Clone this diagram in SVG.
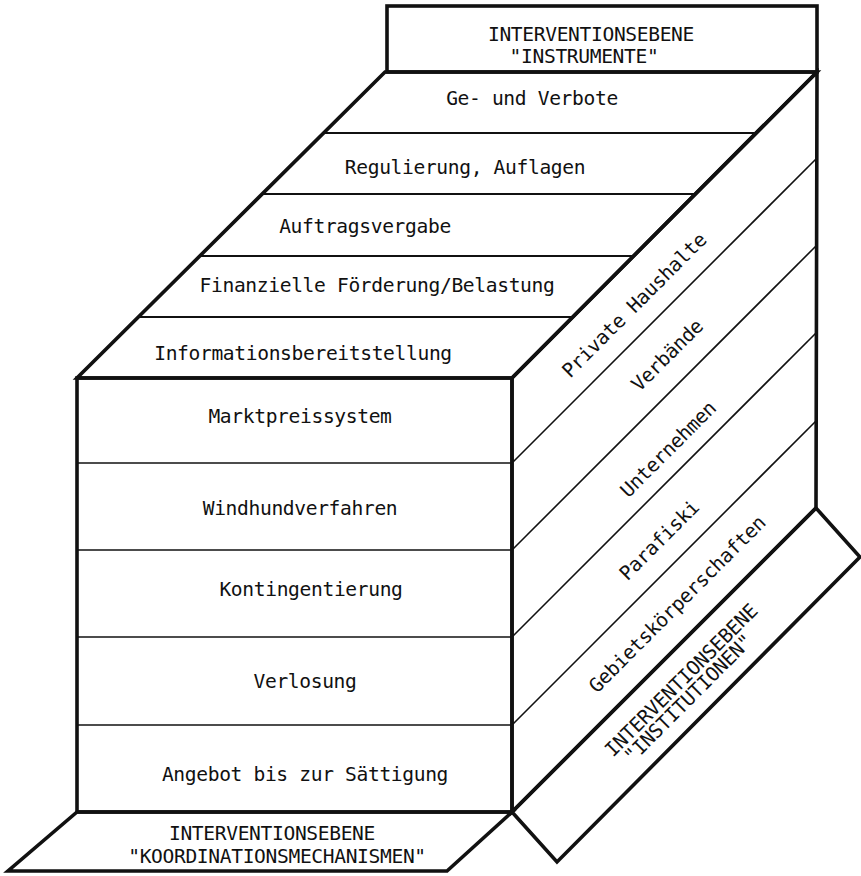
<svg xmlns="http://www.w3.org/2000/svg" width="861" height="876" viewBox="0 0 861 876">
<style>
.bg{fill:#fff}
.thick{fill:none;stroke:#111;stroke-width:3.6;stroke-linejoin:miter}
.thin{fill:none;stroke:#111;stroke-width:1.6}
.mid{fill:none;stroke:#111;stroke-width:2}
text{font-family:"DejaVu Sans Mono","Liberation Mono",monospace;font-size:19.6px;letter-spacing:-0.35px;fill:#111;text-anchor:middle}
</style>
<rect class="bg" x="0" y="0" width="861" height="876"/>
<g id="connectors">
  <line class="mid" x1="322" y1="133" x2="756" y2="133"/>
  <line class="mid" x1="261" y1="194" x2="695" y2="194"/>
  <line class="mid" x1="200" y1="256" x2="634" y2="256"/>
  <line class="mid" x1="139" y1="317" x2="573" y2="317"/>
  <line class="thin" x1="77" y1="463" x2="512" y2="463"/>
  <line class="thin" x1="77" y1="550" x2="512" y2="550"/>
  <line class="thin" x1="77" y1="637" x2="512" y2="637"/>
  <line class="thin" x1="77" y1="725" x2="512" y2="725"/>
  <line class="thin" x1="512" y1="463" x2="816" y2="159"/>
  <line class="thin" x1="512" y1="550" x2="816" y2="246"/>
  <line class="thin" x1="512" y1="637" x2="816" y2="333"/>
  <line class="thin" x1="512" y1="725" x2="816" y2="421"/>
</g>
<g id="top-box">
  <rect class="thick" x="387" y="6" width="430" height="66"/>
  <text x="591" y="41">INTERVENTIONSEBENE</text>
  <text x="584" y="63">"INSTRUMENTE"</text>
</g>
<g id="top-face">
  <polygon class="thick" points="385,72 817,72 512,378 77,378"/>
  <text x="532" y="105">Ge- und Verbote</text>
  <text x="465" y="174">Regulierung, Auflagen</text>
  <text x="365" y="233">Auftragsvergabe</text>
  <text x="377" y="292">Finanzielle Förderung/Belastung</text>
  <text x="303" y="360">Informationsbereitstellung</text>
</g>
<g id="right-face">
  <polygon class="thick" points="512,378 817,72 816,508 512,812"/>
  <text transform="translate(634,305) rotate(-45)" x="0" y="7">Private Haushalte</text>
  <text transform="translate(667,355) rotate(-45)" x="0" y="7">Verbände</text>
  <text transform="translate(668,449) rotate(-45)" x="0" y="7">Unternehmen</text>
  <text transform="translate(659,540) rotate(-45)" x="0" y="7">Parafiski</text>
  <text transform="translate(677,604) rotate(-45)" x="0" y="7">Gebietskörperschaften</text>
</g>
<g id="front-face">
  <rect class="thick" x="77" y="378" width="435" height="434"/>
  <text x="300" y="423">Marktpreissystem</text>
  <text x="300" y="515">Windhundverfahren</text>
  <text x="311" y="596">Kontingentierung</text>
  <text x="305" y="688">Verlosung</text>
  <text x="305" y="781">Angebot bis zur Sättigung</text>
</g>
<g id="bottom-box">
  <polygon class="thick" points="77,812 512,812 447,871 8,871"/>
  <text x="272" y="840">INTERVENTIONSEBENE</text>
  <text x="277" y="863">"KOORDINATIONSMECHANISMEN"</text>
</g>
<g id="institutions-box">
  <polygon class="thick" points="512,812 816,508 860,557 557,862"/>
  <g transform="translate(681,680) rotate(-45)">
    <text x="0" y="7">INTERVENTIONSEBENE</text>
    <text x="-8" y="25">"INSTITUTIONEN"</text>
  </g>
</g>
</svg>
